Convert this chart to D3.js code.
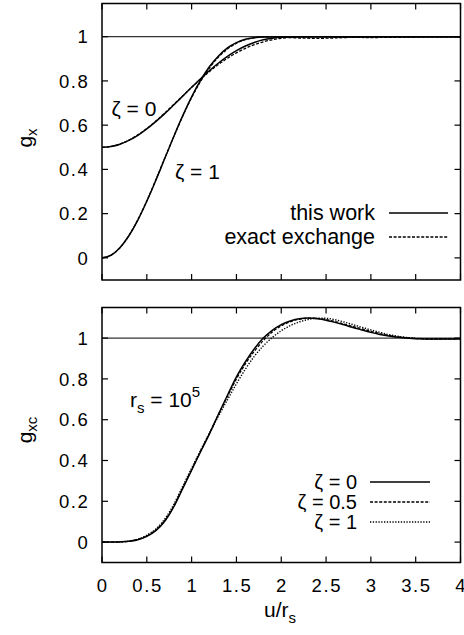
<!DOCTYPE html>
<html>
<head>
<meta charset="utf-8">
<script src="https://cdn.jsdelivr.net/npm/d3@7"></script>
<style>
  body { margin: 0; background: #fff; }
  svg { display: block; font-family: "Liberation Sans", Arial, Helvetica, sans-serif; }
  .tick-label { font-size: 18.5px; letter-spacing: 1.6px; fill: #000; }
  .annot { font-size: 21px; fill: #000; }
  .legend-text { fill: #000; }
</style>
</head>
<body>
<div id="chart"></div>
<script>
// u / r_s grid for the top panel
const uTop = [0, 0.1, 0.2, 0.3, 0.4, 0.5, 0.6, 0.7, 0.8, 0.9, 1.0, 1.1, 1.2, 1.3, 1.4, 1.5,
  1.6, 1.7, 1.8, 1.9, 2.0, 2.2, 2.4, 2.6, 2.8, 3.0, 3.2, 3.4, 3.6, 3.8, 4.0];

// g_x, this work
const gxThisZeta0 = [0.5, 0.5035, 0.514, 0.531, 0.554, 0.583, 0.616, 0.652, 0.691, 0.731, 0.771,
  0.81, 0.847, 0.881, 0.911, 0.937, 0.958, 0.974, 0.986, 0.993, 0.997,
  0.9995, 1, 1, 1, 1, 1, 1, 1, 1, 1];
const gxThisZeta1 = [0, 0.012, 0.046, 0.1, 0.171, 0.256, 0.35, 0.449, 0.548, 0.642, 0.728,
  0.803, 0.865, 0.913, 0.949, 0.973, 0.988, 0.995, 0.998, 0.999, 1,
  1, 1, 1, 1, 1, 1, 1, 1, 1, 1];

// g_x, exact exchange
const gxExactZeta0 = [0.5, 0.5037, 0.5146, 0.5322, 0.556, 0.5851, 0.6185, 0.6549, 0.6932, 0.7323, 0.7708,
  0.808, 0.8428, 0.8745, 0.9026, 0.927, 0.9473, 0.9637, 0.9765, 0.986, 0.9926,
  0.999, 0.9999, 0.9984, 0.9969, 0.9963, 0.9968, 0.9978, 0.999, 0.9997, 1.0];
const gxExactZeta1 = [0, 0.0116, 0.0459, 0.1006, 0.1728, 0.2582, 0.3524, 0.4505, 0.5477, 0.6401, 0.7243,
  0.7978, 0.8592, 0.9079, 0.9446, 0.9703, 0.9867, 0.9958, 0.9995, 0.9998, 0.9982,
  0.9941, 0.9926, 0.9942, 0.9972, 0.9993, 1.0, 0.9996, 0.9989, 0.9987, 0.9991];

// u / r_s grid for the bottom panel
const uBottom = [0, 0.1, 0.2, 0.3, 0.4, 0.5, 0.6, 0.7, 0.8, 0.9, 1.0, 1.1, 1.2, 1.3, 1.4, 1.5,
  1.6, 1.7, 1.8, 1.9, 2.0, 2.1, 2.2, 2.3, 2.4, 2.5, 2.6, 2.7, 2.8, 2.9, 3.0,
  3.1, 3.2, 3.3, 3.4, 3.5, 3.6, 3.7, 3.8, 3.9, 4.0];

// g_xc at r_s = 1e5
const gxcZeta0 = [0, 0, 0.001, 0.004, 0.012, 0.028, 0.056, 0.102, 0.172, 0.262, 0.352,
  0.443, 0.532, 0.628, 0.72, 0.81, 0.884, 0.948, 1.0, 1.038, 1.066,
  1.084, 1.095, 1.098, 1.095, 1.088, 1.077, 1.065, 1.052, 1.04, 1.028,
  1.018, 1.01, 1.004, 1.0, 0.997, 0.996, 0.995, 0.996, 0.996, 0.997];
const gxcZeta05 = [0, 0, 0.001, 0.004, 0.013, 0.03, 0.059, 0.106, 0.176, 0.266, 0.356,
  0.446, 0.534, 0.626, 0.714, 0.8, 0.874, 0.936, 0.988, 1.03, 1.06,
  1.08, 1.092, 1.098, 1.097, 1.091, 1.081, 1.069, 1.057, 1.045, 1.033,
  1.022, 1.013, 1.006, 1.001, 0.998, 0.996, 0.995, 0.996, 0.996, 0.997];
const gxcZeta1 = [0, 0, 0.001, 0.005, 0.015, 0.034, 0.064, 0.113, 0.184, 0.273, 0.362,
  0.45, 0.535, 0.618, 0.698, 0.776, 0.848, 0.911, 0.962, 1.003, 1.036,
  1.061, 1.079, 1.091, 1.098, 1.097, 1.09, 1.079, 1.066, 1.053, 1.04,
  1.028, 1.017, 1.009, 1.003, 0.999, 0.997, 0.996, 0.996, 0.996, 0.997];

const xTicks = [0, 0.5, 1, 1.5, 2, 2.5, 3, 3.5, 4];
const yTicks = [0, 0.2, 0.4, 0.6, 0.8, 1];

const topLegend = ["this work", "exact exchange"];
const bottomLegend = ["ζ = 0", "ζ = 0.5", "ζ = 1"];

const dashStyles = { solid: null, dashed: "3,1.6", dotted: "1.3,1.5" };

const svg = d3.select("#chart").append("svg")
  .attr("width", 464)
  .attr("height", 635);

class Panel {
  constructor(_config) {
    this.config = {
      left: _config.left,
      right: _config.right,
      top: _config.top,
      bottom: _config.bottom,
      id: _config.id,
      showXLabels: _config.showXLabels || false,
    };
    this.initVis();
  }

  initVis() {
    let vis = this;
    const c = vis.config;

    vis.x = d3.scaleLinear().domain([0, 4]).range([c.left, c.right]);
    vis.y = d3.scaleLinear().domain([-0.1, 1.15]).range([c.bottom, c.top]);

    vis.g = svg.append("g");

    svg.append("defs").append("clipPath")
      .attr("id", "clip-" + c.id)
      .append("rect")
      .attr("x", c.left)
      .attr("y", c.top)
      .attr("width", c.right - c.left)
      .attr("height", c.bottom - c.top);

    // reference line at g = 1
    vis.g.append("line")
      .attr("x1", c.left).attr("x2", c.right)
      .attr("y1", vis.y(1)).attr("y2", vis.y(1))
      .attr("stroke", "#333")
      .attr("stroke-width", 1.2);

    vis.curves = vis.g.append("g").attr("clip-path", `url(#clip-${c.id})`);

    // inward ticks on all four sides
    const tickLen = 6;
    const ticks = vis.g.append("g")
      .attr("stroke", "#000")
      .attr("stroke-width", 1.2);
    xTicks.forEach((t) => {
      ticks.append("line")
        .attr("x1", vis.x(t)).attr("x2", vis.x(t))
        .attr("y1", c.bottom).attr("y2", c.bottom - tickLen);
      ticks.append("line")
        .attr("x1", vis.x(t)).attr("x2", vis.x(t))
        .attr("y1", c.top).attr("y2", c.top + tickLen);
    });
    yTicks.forEach((t) => {
      ticks.append("line")
        .attr("x1", c.left).attr("x2", c.left + tickLen)
        .attr("y1", vis.y(t)).attr("y2", vis.y(t));
      ticks.append("line")
        .attr("x1", c.right).attr("x2", c.right - tickLen)
        .attr("y1", vis.y(t)).attr("y2", vis.y(t));
    });

    // frame
    vis.g.append("rect")
      .attr("x", c.left).attr("y", c.top)
      .attr("width", c.right - c.left)
      .attr("height", c.bottom - c.top)
      .attr("fill", "none")
      .attr("stroke", "#000")
      .attr("stroke-width", 1.5);

    // y tick labels
    vis.g.selectAll(".ytl")
      .data(yTicks)
      .join("text")
      .attr("class", "tick-label")
      .attr("x", c.left - 12.5)
      .attr("y", (d) => vis.y(d))
      .attr("dy", "0.36em")
      .attr("text-anchor", "end")
      .text((d) => d);

    if (c.showXLabels) {
      vis.g.selectAll(".xtl")
        .data(xTicks)
        .join("text")
        .attr("class", "tick-label")
        .attr("x", (d) => vis.x(d) + 0.8)
        .attr("y", c.bottom + 29)
        .attr("text-anchor", "middle")
        .text((d) => d);
    }

    vis.line = d3.line()
      .x((d) => vis.x(d[0]))
      .y((d) => vis.y(d[1]))
      .curve(d3.curveMonotoneX);
  }

  addCurve(us, gs, style, width) {
    let vis = this;
    const pts = us.map((u, i) => [u, gs[i]]);
    vis.curves.append("path")
      .datum(pts)
      .attr("d", vis.line)
      .attr("fill", "none")
      .attr("stroke", "#000")
      .attr("stroke-width", width)
      .attr("stroke-dasharray", dashStyles[style]);
  }

  addLegend(labels, styles, textEnd, x0, x1, y0, dy, fontSize) {
    let vis = this;
    labels.forEach((lab, i) => {
      const yy = y0 + i * dy;
      vis.g.append("text")
        .attr("class", "legend-text")
        .attr("font-size", fontSize)
        .attr("x", textEnd)
        .attr("y", yy)
        .attr("dy", "0.34em")
        .attr("text-anchor", "end")
        .text(lab);
      vis.g.append("line")
        .attr("x1", x0).attr("x2", x1)
        .attr("y1", yy).attr("y2", yy)
        .attr("stroke", "#000")
        .attr("stroke-width", styles[i] === "solid" ? 1.5 : 1.3)
        .attr("stroke-dasharray", dashStyles[styles[i]]);
    });
  }
}

// top panel: exchange hole
const topPanel = new Panel({ left: 102, right: 460.5, top: 3.5, bottom: 280, id: "top" });
topPanel.addCurve(uTop, gxExactZeta0, "dashed", 1.3);
topPanel.addCurve(uTop, gxExactZeta1, "dashed", 1.3);
topPanel.addCurve(uTop, gxThisZeta0, "solid", 1.5);
topPanel.addCurve(uTop, gxThisZeta1, "solid", 1.5);
topPanel.addLegend(topLegend, ["solid", "dashed"], 375, 389, 448, 213, 24, 21.5);

svg.append("text").attr("class", "annot")
  .attr("x", 111.5).attr("y", 115.5).text("ζ = 0");
svg.append("text").attr("class", "annot")
  .attr("x", 175).attr("y", 178.5).text("ζ = 1");

// bottom panel: exchange-correlation hole
const bottomPanel = new Panel({ left: 102, right: 460.5, top: 307.5, bottom: 562.5, id: "bottom", showXLabels: true });
bottomPanel.addCurve(uBottom, gxcZeta1, "dotted", 1.4);
bottomPanel.addCurve(uBottom, gxcZeta05, "dashed", 1.3);
bottomPanel.addCurve(uBottom, gxcZeta0, "solid", 1.5);
bottomPanel.addLegend(bottomLegend, ["solid", "dashed", "dotted"], 357, 370, 430, 482, 20, 20);

// r_s = 10^5
const rsText = svg.append("text").attr("class", "annot").attr("x", 130).attr("y", 407);
rsText.append("tspan").text("r");
rsText.append("tspan").attr("font-size", 15).attr("dy", 6).text("s");
rsText.append("tspan").attr("dy", -6).text(" = 10");
rsText.append("tspan").attr("font-size", 15).attr("dy", -10).text("5");

// axis labels
function yLabel(cx, cy, main, sub) {
  const t = svg.append("text")
    .attr("class", "annot")
    .attr("font-size", 22)
    .attr("text-anchor", "middle")
    .attr("transform", `translate(${cx},${cy}) rotate(-90)`);
  t.append("tspan").text(main);
  t.append("tspan").attr("font-size", 15).attr("dy", 5).text(sub);
}
yLabel(32, 138, "g", "x");
yLabel(32, 430, "g", "xc");

const xl = svg.append("text")
  .attr("class", "annot")
  .attr("x", 280)
  .attr("y", 617)
  .attr("text-anchor", "middle");
xl.append("tspan").text("u/r");
xl.append("tspan").attr("font-size", 15).attr("dy", 6).text("s");
</script>
</body>
</html>
